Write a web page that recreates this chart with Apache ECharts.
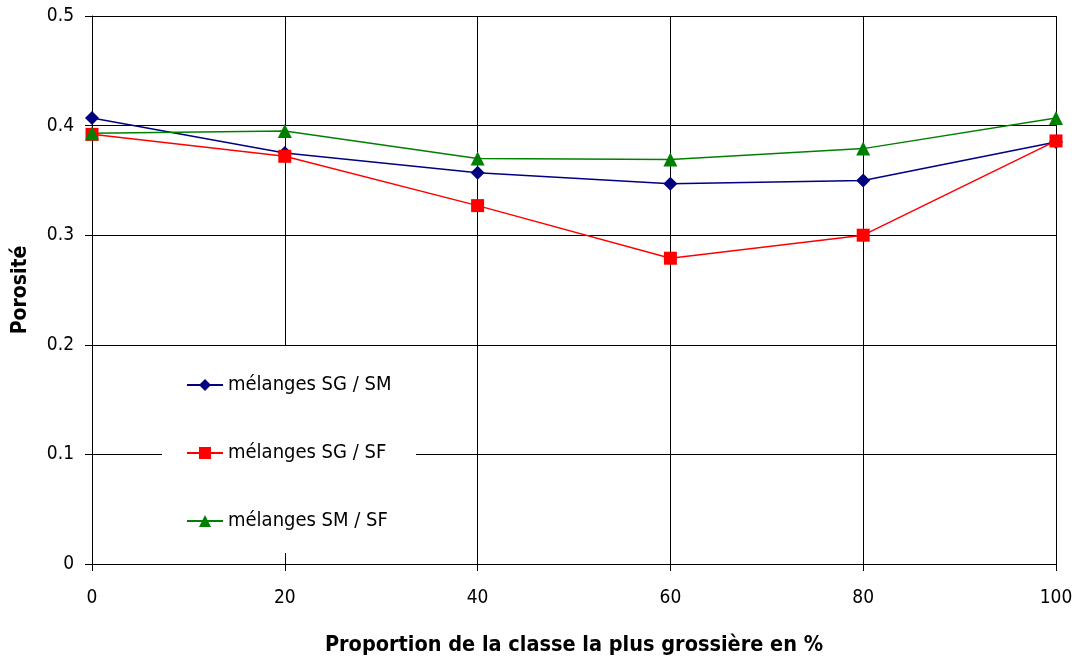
<!DOCTYPE html>
<html><head><meta charset="utf-8">
<script src="https://cdn.jsdelivr.net/npm/echarts@6/dist/echarts.min.js"></script>
<style>html,body{margin:0;padding:0;background:#fff}#c{width:1077px;height:657px}</style>
</head><body><div id="c"></div>
<script>
var xValues = [0, 20, 40, 60, 80, 100];
var sgSm = [0.407, 0.375, 0.357, 0.347, 0.350, 0.385];
var sgSf = [0.392, 0.372, 0.327, 0.279, 0.300, 0.386];
var smSf = [0.393, 0.395, 0.370, 0.369, 0.379, 0.407];
var seriesNames = ['mélanges SG / SM', 'mélanges SG / SF', 'mélanges SM / SF'];

function pairs(v){ return xValues.map(function(x,i){ return [x, v[i]]; }); }
var font = '"DejaVu Sans Condensed", "DejaVu Sans", sans-serif';
var chart = echarts.init(document.getElementById('c'));
chart.setOption({
  animation: false,
  backgroundColor: '#fff',
  grid: {left: 92, right: 21, top: 16, bottom: 93, containLabel: false, outerBoundsMode: 'none'},
  xAxis: {
    type: 'value', min: 0, max: 100, interval: 20,
    name: 'Proportion de la classe la plus grossière en %',
    nameLocation: 'middle', nameGap: 70,
    nameTextStyle: {fontFamily: font, fontSize: 21.5, fontWeight: 'bold', color: '#000'},
    axisLine: {show: true, lineStyle: {color: '#000', width: 1}},
    axisTick: {show: true, length: 7, lineStyle: {color: '#000'}},
    axisLabel: {fontFamily: font, fontSize: 19, color: '#000', margin: 25},
    splitLine: {show: true, lineStyle: {color: '#000', width: 1}}
  },
  yAxis: {
    type: 'value', min: 0, max: 0.5, interval: 0.1,
    name: 'Porosité', nameLocation: 'middle', nameGap: 61,
    nameTextStyle: {fontFamily: font, fontSize: 21, fontWeight: 'bold', color: '#000'},
    axisLine: {show: true, lineStyle: {color: '#000', width: 1}},
    axisTick: {show: true, length: 7, lineStyle: {color: '#000'}},
    axisLabel: {fontFamily: font, fontSize: 19, color: '#000', margin: 18,
      formatter: function(v){ return v === 0 ? '0' : v.toFixed(1); }},
    splitLine: {show: true, lineStyle: {color: '#000', width: 1}}
  },
  graphic: [{type: 'rect', z: 3, shape: {x: 162, y: 346, width: 254, height: 207},
    style: {fill: '#fff', stroke: null}}],
  legend: {
    z: 5,
    orient: 'vertical', left: 181, top: 370, itemGap: 48,
    itemWidth: 36, itemHeight: 15, padding: 5,
    textStyle: {fontFamily: font, fontSize: 20, color: '#000'},
    data: seriesNames
  },
  series: [
    {name: seriesNames[0], type: 'line', data: pairs(sgSm), symbol: 'diamond', symbolSize: 14,
     lineStyle: {color: '#000080', width: 1.5}, itemStyle: {color: '#000080'}, z: 4},
    {name: seriesNames[1], type: 'line', data: pairs(sgSf), symbol: 'rect', symbolSize: 13,
     lineStyle: {color: '#ff0000', width: 1.5}, itemStyle: {color: '#ff0000'}, z: 4},
    {name: seriesNames[2], type: 'line', data: pairs(smSf), symbol: 'triangle', symbolSize: 14,
     lineStyle: {color: '#008000', width: 1.5}, itemStyle: {color: '#008000'}, z: 4}
  ]
});
</script></body></html>
